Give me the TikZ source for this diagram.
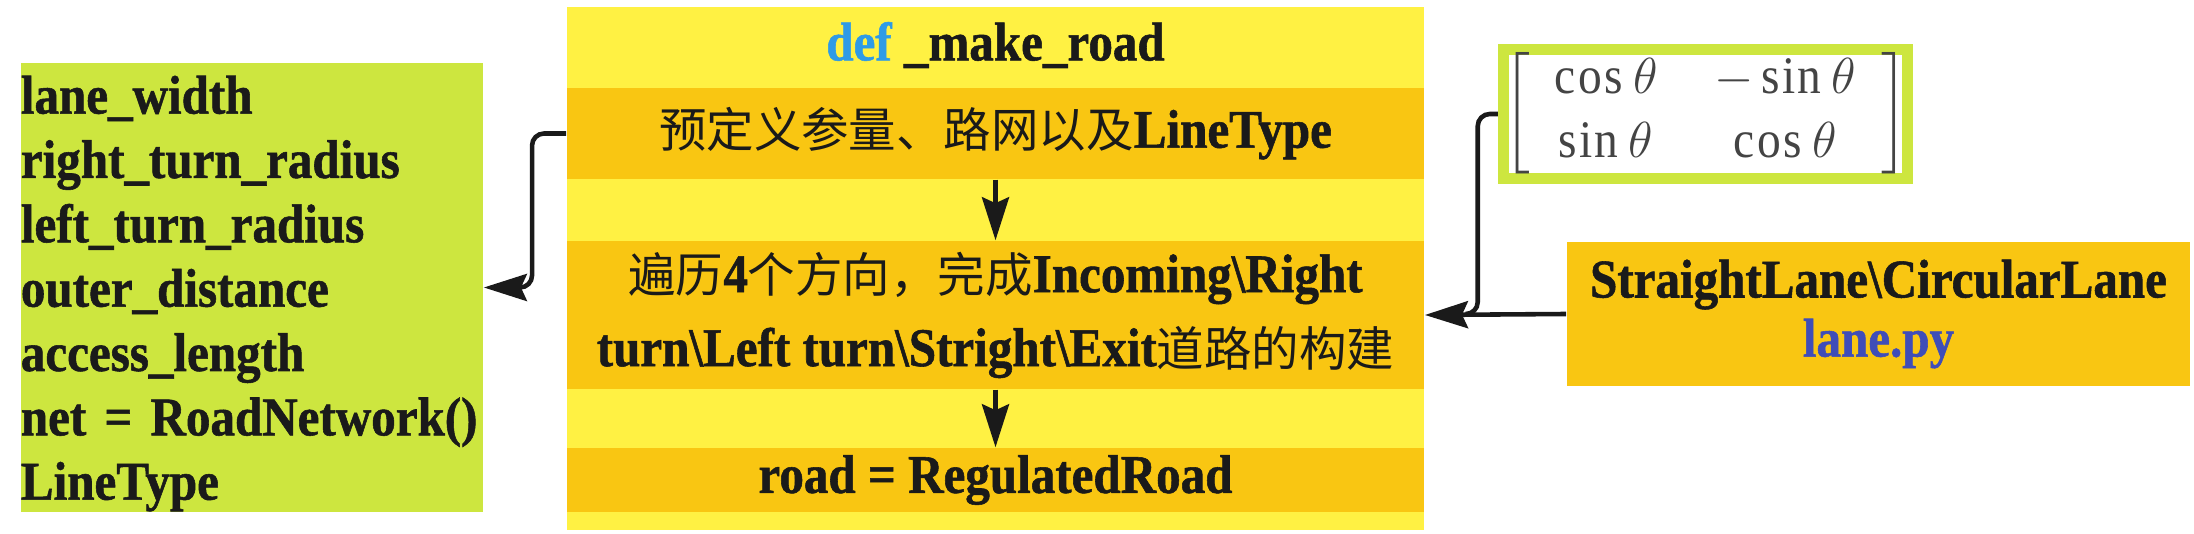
\documentclass[tikz,border=0pt]{standalone}
\usepackage{fontspec}
\usepackage{amsmath}
\usetikzlibrary{arrows.meta,positioning,calc}
\setmainfont{Liberation Serif}[FakeStretch=0.9, BoldFeatures={FakeBold=1}]
\newfontfamily\cjkfont{Noto Sans CJK SC}
\definecolor{LimeGreen}{HTML}{CDE63F}
\definecolor{LemonYellow}{HTML}{FFF143}
\definecolor{AmberBand}{HTML}{F9C612}
\definecolor{InkBlack}{HTML}{1A1A1A}
\definecolor{DefBlue}{HTML}{2E9BE6}
\definecolor{FileBlue}{HTML}{3F4DB8}
\definecolor{MatGray}{HTML}{444444}
\newcommand{\zh}[1]{{\mdseries\cjkfont\fontsize{13.5}{18}\selectfont #1}}

\begin{document}
\begin{tikzpicture}[x=0.01cm, y=-0.01cm,
    every node/.style={font=\fontsize{15.5}{18.3}\selectfont\bfseries, text=InkBlack, inner sep=0pt},
    band/.style={fill=AmberBand, minimum width=8.57cm},
    flow/.style={draw=InkBlack, line width=1.3pt, rounded corners=1.2mm,
        -{Stealth[length=4.3mm, width=2.7mm, inset=0.6mm]}}]
    \useasboundingbox (0,0) rectangle (2194,534);

    % parameters on the left
    \node[fill=LimeGreen, text width=4.62cm, minimum height=4.49cm, align=left] (params) at (252,287.5)
        {\rule{0pt}{5mm}lane\_width\\right\_turn\_radius\\left\_turn\_radius\\outer\_distance\\access\_length\\net = RoadNetwork()\\LineType};

    % the function body
    \node[fill=LemonYellow, minimum width=8.57cm, minimum height=5.23cm] (makeroad) at (995.5,268.5) {};
    \node (title) at (995.5,45) {\textcolor{DefBlue}{def} \_make\_road};
    \node[band, minimum height=0.91cm] (predef) at (995.5,133.5)
        {\zh{预定义参量、路网以及}LineType};
    \node[band, minimum height=1.48cm, align=center, font=\fontsize{15.5}{21}\selectfont\bfseries] (traverse) at (995.5,315)
        {\zh{遍历}4\zh{个方向，完成}Incoming\textbackslash Right\\turn\textbackslash Left turn\textbackslash Stright\textbackslash Exit\zh{道路的构建}};
    \node[band, minimum height=0.64cm] (regroad) at (995.5,480) {road = RegulatedRoad};

    % rotation matrix
    \node[draw=LimeGreen, line width=1.1mm, fill=white, minimum width=4.0cm, minimum height=1.25cm,
        font=\fontsize{15}{18}\selectfont, text=MatGray] (rotmat) at (1705.5,114)
        {$\left[\rule[-5.3mm]{0pt}{10.6mm}\hspace{7pt}\begin{matrix}\cos\theta & \hspace{6pt}-\sin\theta\\ \sin\theta & \hspace{6pt}\cos\theta\end{matrix}\hspace{7pt}\right]$};

    % lane classes
    \node[fill=AmberBand, minimum width=6.23cm, minimum height=1.44cm, align=center,
        font=\fontsize{15.5}{16.8}\selectfont\bfseries] (lanes) at (1878.5,314)
        {StraightLane\textbackslash CircularLane\\\textcolor{FileBlue}{lane.py}};

    % connectors
    \draw[flow] (predef.south) -- (traverse.north);
    \draw[flow] (traverse.south) -- (regroad.north);
    \draw[flow] (predef.west) -- ++(-34,0) |- (params.east);
    \draw[flow] (lanes.west) -- (traverse.east);
    \coordinate (bend) at ($(rotmat.west)+(-20,0)$);
    \draw[draw=InkBlack, line width=1.3pt, rounded corners=1.2mm]
        (rotmat.west) -- (bend) |- ($(bend |- lanes.west)+(-12,0)$);
\end{tikzpicture}
\end{document}
